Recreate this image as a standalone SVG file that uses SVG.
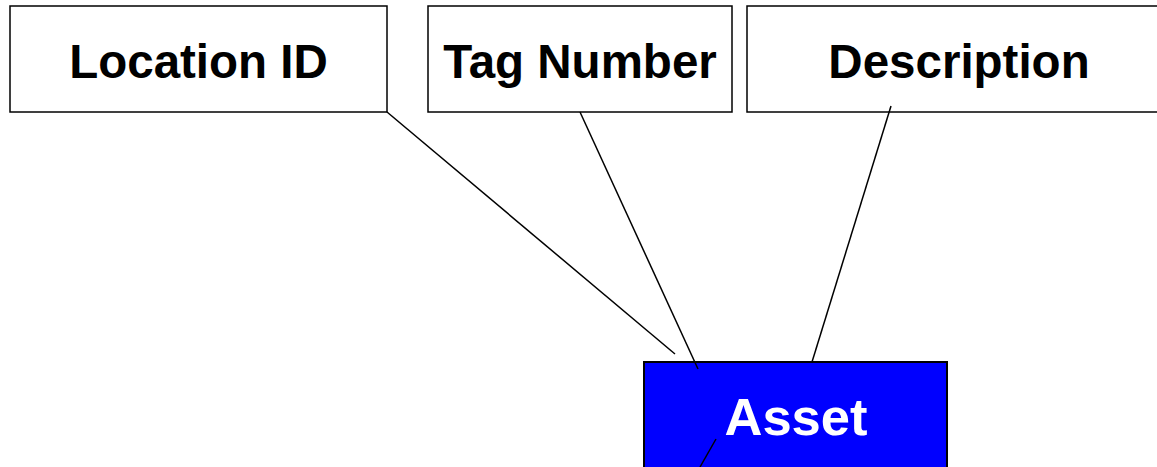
<svg xmlns="http://www.w3.org/2000/svg" width="1157" height="467" viewBox="0 0 1157 467">
<style>
.box{fill:#fff;stroke:#000;stroke-width:1.5}
.asset{fill:#0000ff;stroke:#000;stroke-width:2}
.lbl{font-family:"Liberation Sans",Arial,sans-serif;font-weight:bold;font-size:47.5px;text-anchor:middle;fill:#000}
.albl{font-family:"Liberation Sans",Arial,sans-serif;font-weight:bold;font-size:52.5px;text-anchor:middle;fill:#fff}
.conn line{stroke:#000;stroke-width:1.5}
</style>
<rect width="1157" height="467" fill="#fff"/>
<g id="location-id">
<rect class="box" x="10" y="6" width="377" height="106"/>
<text class="lbl" x="198.5" y="78">Location ID</text>
</g>
<g id="tag-number">
<rect class="box" x="428" y="6" width="304" height="106"/>
<text class="lbl" x="580" y="78">Tag Number</text>
</g>
<g id="description">
<rect class="box" x="747" y="6" width="424" height="106"/>
<text class="lbl" x="959" y="78">Description</text>
</g>
<g id="asset">
<rect class="asset" x="644" y="362" width="303" height="120"/>
<text class="albl" x="796" y="435">Asset</text>
</g>
<g id="connectors" class="conn">
<line x1="387" y1="112" x2="675" y2="354"/>
<line x1="580" y1="112" x2="698" y2="369"/>
<line x1="891" y1="106" x2="812" y2="362"/>
<line x1="716" y1="439" x2="700" y2="467"/>
</g>
</svg>
